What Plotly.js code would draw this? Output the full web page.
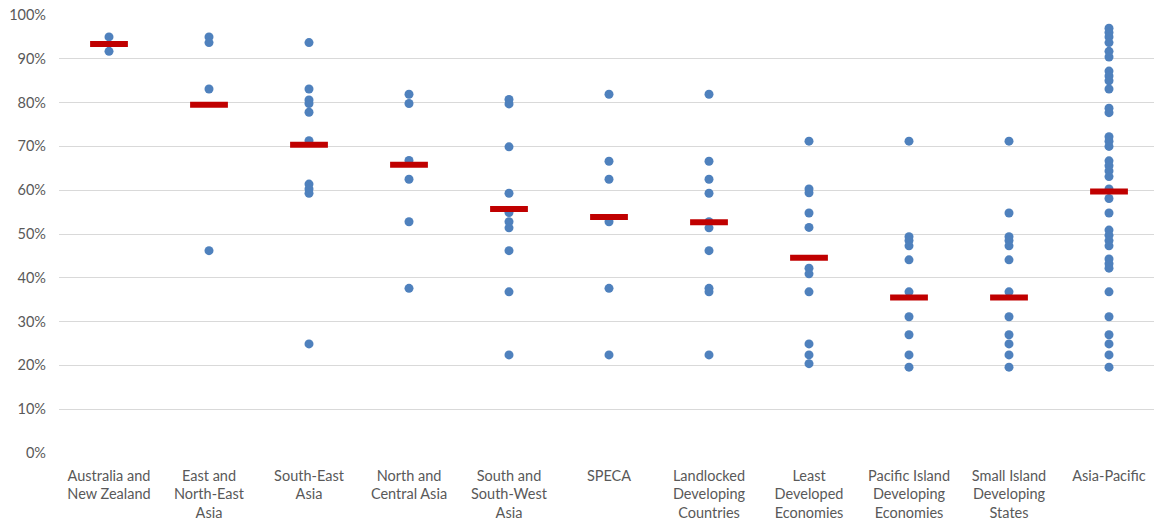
<!DOCTYPE html>
<html>
<head>
<meta charset="utf-8">
<script src="https://cdn.plot.ly/plotly-3.0.1.min.js"></script>
<style>
html,body{margin:0;padding:0;background:#fff;}
#chart{width:1154px;height:527px;}
</style>
</head>
<body>
<div id="chart"></div>
<script>
var categories = [
  "Australia and<br>New Zealand",
  "East and<br>North-East<br>Asia",
  "South-East<br>Asia",
  "North and<br>Central Asia",
  "South and<br>South-West<br>Asia",
  "SPECA",
  "Landlocked<br>Developing<br>Countries",
  "Least<br>Developed<br>Economies",
  "Pacific Island<br>Developing<br>Economies",
  "Small Island<br>Developing<br>States",
  "Asia-Pacific"
];

var anz   = [95.0, 91.7];
var enea  = [95.0, 93.7, 83.1, 46.2];
var sea   = [93.7, 83.1, 80.6, 79.8, 77.8, 71.3, 61.4, 60.3, 59.3, 24.9];
var nca   = [81.9, 79.8, 66.8, 62.5, 52.8, 37.6];
var sswa  = [80.7, 79.7, 69.9, 59.3, 54.9, 52.8, 51.4, 46.2, 36.8, 22.4];
var speca = [81.9, 66.6, 62.5, 52.8, 37.6, 22.4];
var lldc  = [81.9, 66.6, 62.5, 59.3, 52.8, 51.4, 46.2, 37.6, 36.8, 22.4];
var ldc   = [71.2, 60.3, 59.4, 54.8, 51.5, 42.2, 40.9, 36.8, 24.9, 22.4, 20.4];
var pide  = [71.2, 49.4, 48.5, 47.3, 44.1, 36.8, 31.1, 27.0, 22.4, 19.6];
var sids  = [71.2, 54.8, 49.4, 48.5, 47.3, 44.1, 36.8, 31.1, 27.0, 24.9, 22.4, 19.6];
var asiaPacific = [97.0, 96.0, 95.0, 93.7, 91.7, 90.4, 87.2, 86.1, 85.0, 83.1, 78.7, 77.7,
  72.2, 71.2, 70.0, 66.7, 65.6, 64.4, 63.1, 60.3, 58.1, 54.8, 50.9, 49.7, 48.5, 47.3,
  44.3, 43.2, 42.2, 36.8, 31.1, 27.0, 24.9, 22.4, 19.6];

var means = [93.4, 79.5, 70.4, 65.8, 55.7, 53.9, 52.7, 44.6, 35.5, 35.5, 59.7];

var groups = [anz, enea, sea, nca, sswa, speca, lldc, ldc, pide, sids, asiaPacific];

var px = [], py = [];
groups.forEach(function (g, i) {
  g.forEach(function (v) { px.push(categories[i]); py.push(v); });
});

var font = "Lato, 'Open Sans', sans-serif";

var traces = [
  {
    type: "scatter", mode: "markers", x: px, y: py,
    marker: { color: "#4F81BD", size: 9 },
    hoverinfo: "x+y", showlegend: false
  },
  {
    type: "scatter", mode: "markers", x: categories, y: means,
    marker: { symbol: "line-ew", size: 27, color: "#C00000", line: { color: "#C00000", width: 6 } },
    showlegend: false
  }
];

var layout = {
  width: 1154, height: 527,
  margin: { l: 59, r: 0, t: 15, b: 74 },
  paper_bgcolor: "#ffffff", plot_bgcolor: "#ffffff",
  font: { family: font, size: 14, color: "#595959" },
  showlegend: false,
  xaxis: {
    type: "category",
    categoryorder: "array", categoryarray: categories,
    range: [-0.5, 10.45],
    showgrid: false, zeroline: false, showline: false,
    ticks: "", ticklabelstandoff: 12,
    tickfont: { family: font, size: 14.5, color: "#595959" },
    fixedrange: true
  },
  yaxis: {
    range: [0, 100], dtick: 10, ticksuffix: "%",
    showgrid: true, gridcolor: "#D9D9D9", gridwidth: 1,
    zeroline: false, showline: false, ticks: "", ticklabelstandoff: 12,
    tickfont: { family: font, size: 14.5, color: "#595959" },
    fixedrange: true
  }
};

Plotly.newPlot("chart", traces, layout, { displayModeBar: false, staticPlot: true });
</script>
</body>
</html>
